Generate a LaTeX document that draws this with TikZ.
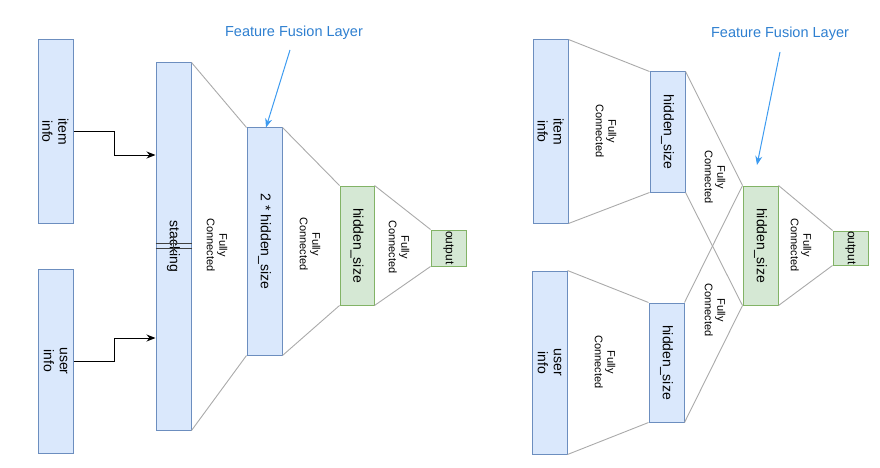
\documentclass[tikz,border=0pt]{standalone}
\usepackage{fontspec}
\setmainfont{Liberation Sans}
\usetikzlibrary{arrows.meta}
\definecolor{bfill}{HTML}{DAE8FC}
\definecolor{bdraw}{HTML}{6C8EBF}
\definecolor{gfill}{HTML}{D5E8D4}
\definecolor{gdraw}{HTML}{82B366}
\definecolor{fcline}{HTML}{AAAAAA}
\definecolor{ffblue}{HTML}{2E7FD0}
\definecolor{ffarrow}{HTML}{3D9BF0}
\tikzset{
  bbox/.style={draw=bdraw, fill=bfill, line width=1pt, inner sep=0pt},
  gbox/.style={draw=gdraw, fill=gfill, line width=1pt, inner sep=0pt},
  vtext/.style={rotate=-90, align=center, font=\fontsize{14}{16}\selectfont, inner sep=0pt},
  fctext/.style={rotate=-90, align=center, font=\fontsize{11}{12.5}\selectfont, inner sep=0pt},
  fcl/.style={draw=fcline, line width=0.9pt},
  feat/.style={text=ffblue, font=\fontsize{14.5}{16}\selectfont, inner sep=0pt},
  featarrow/.style={draw=ffarrow, line width=1pt, -{Stealth[length=9pt,width=7pt]}},
  inarrow/.style={draw=black, line width=1pt, -{Stealth[length=9pt,width=7pt]}},
}
\begin{document}
\begin{tikzpicture}[x=1pt,y=-1pt]
\useasboundingbox (0,0) rectangle (880,468);
% ---------- left diagram ----------
\node[bbox, minimum width=35pt, minimum height=183pt] (item) at (55.5,131.5) {};
\node[vtext] (itemt) at (item) {item\\info};
\node[bbox, minimum width=35pt, minimum height=184pt] (user) at (55.5,361) {};
\node[vtext] (usert) at (user) {user\\info};
\node[bbox, minimum width=35pt, minimum height=367pt] (stack) at (173.5,246.5) {};
\node[vtext] (stackt) at (stack) {stacking};
\node[bbox, minimum width=35pt, minimum height=227pt] (hs2) at (264.5,241.5) {};
\node[vtext] (hs2t) at (hs2) {2 * hidden\_size};
\node[gbox, minimum width=34pt, minimum height=119pt] (hg) at (357,245.5) {};
\node[vtext] (hgt) at (hg) {hidden\_size};
\node[gbox, minimum width=35pt, minimum height=36pt] (out) at (448.5,248) {};
\node[vtext, font=\fontsize{12}{14}\selectfont] (outt) at (out) {output};

% stacking marks
\coordinate (m1) at (stack.west |- 0,243);
\coordinate (m2) at (stack.west |- 0,248);
\draw[line width=0.8pt, black!75] (m1) -- (stack.east |- m1);
\draw[line width=0.8pt, black!75] (m2) -- (stack.east |- m2);
\coordinate (m3) at (stack.center |- 0,237);
\draw[line width=0.8pt, black!75] (m3) -- (stack.center |- 0,255);

% inputs
\draw[inarrow] (item.east) -- ++(41,0) |- (stack.west |- 0,155);
\draw[inarrow] (user.east) -- ++(41,0) |- (stack.west |- 0,338);

% fully connected trapezoids
\draw[fcl] (stack.north east) -- (hs2.north west);
\draw[fcl] (stack.south east) -- (hs2.south west);
\draw[fcl] (hs2.north east) -- (hg.north west);
\draw[fcl] (hs2.south east) -- (hg.south west);
\draw[fcl] (hg.north east) -- (out.north west);
\draw[fcl] (hg.south east) -- (out.south west);
\node[fctext] (fc1) at (217,245) {Fully\\Connected};
\node[fctext] (fc2) at (310,244) {Fully\\Connected};
\node[fctext] (fc3) at (399,247) {Fully\\Connected};

% feature fusion label
\node[feat] (ffl) at (294,33) {Feature Fusion Layer};
\coordinate (ffls) at (290,50);
\draw[featarrow] (ffls) -- (hs2.north -| 266,0);

% ---------- right diagram ----------
\node[bbox, minimum width=35pt, minimum height=183pt] (ritem) at (550.5,131.5) {};
\node[vtext] (ritemt) at (ritem) {item\\info};
\node[bbox, minimum width=35pt, minimum height=120pt] (rhi) at (667.5,132) {};
\node[vtext] (rhit) at (rhi) {hidden\_size};
\node[bbox, minimum width=35pt, minimum height=183pt] (ruser) at (549.5,362.5) {};
\node[vtext] (rusert) at (ruser) {user\\info};
\node[bbox, minimum width=35pt, minimum height=119pt] (rhu) at (666.5,362.5) {};
\node[vtext] (rhut) at (rhu) {hidden\_size};
\node[gbox, minimum width=35pt, minimum height=119pt] (rg) at (760.5,245.5) {};
\node[vtext] (rgt) at (rg) {hidden\_size};
\node[gbox, minimum width=35pt, minimum height=34pt] (rout) at (850.5,248) {};
\node[vtext, font=\fontsize{12}{14}\selectfont] (routt) at (rout) {output};

\draw[fcl] (ritem.north east) -- (rhi.north west);
\draw[fcl] (ritem.south east) -- (rhi.south west);
\draw[fcl] (ruser.north east) -- (rhu.north west);
\draw[fcl] (ruser.south east) -- (rhu.south west);
\draw[fcl] (rhi.north east) -- (rg.north west);
\draw[fcl] (rhi.south east) -- (rg.south west);
\draw[fcl] (rhu.north east) -- (rg.north west);
\draw[fcl] (rhu.south east) -- (rg.south west);
\draw[fcl] (rg.north east) -- (rout.north west);
\draw[fcl] (rg.south east) -- (rout.south west);
\node[fctext] (rfc1) at (606,131) {Fully\\Connected};
\node[fctext] (rfc2) at (715,177) {Fully\\Connected};
\node[fctext] (rfc3) at (715,310) {Fully\\Connected};
\node[fctext] (rfc4) at (605,362) {Fully\\Connected};
\node[fctext] (rfc5) at (801,245) {Fully\\Connected};

\node[feat] (rffl) at (780,34) {Feature Fusion Layer};
\coordinate (rffls) at (780,52);
\coordinate (rffle) at (757,165);
\draw[featarrow] (rffls) -- (rffle);
\end{tikzpicture}
\end{document}
